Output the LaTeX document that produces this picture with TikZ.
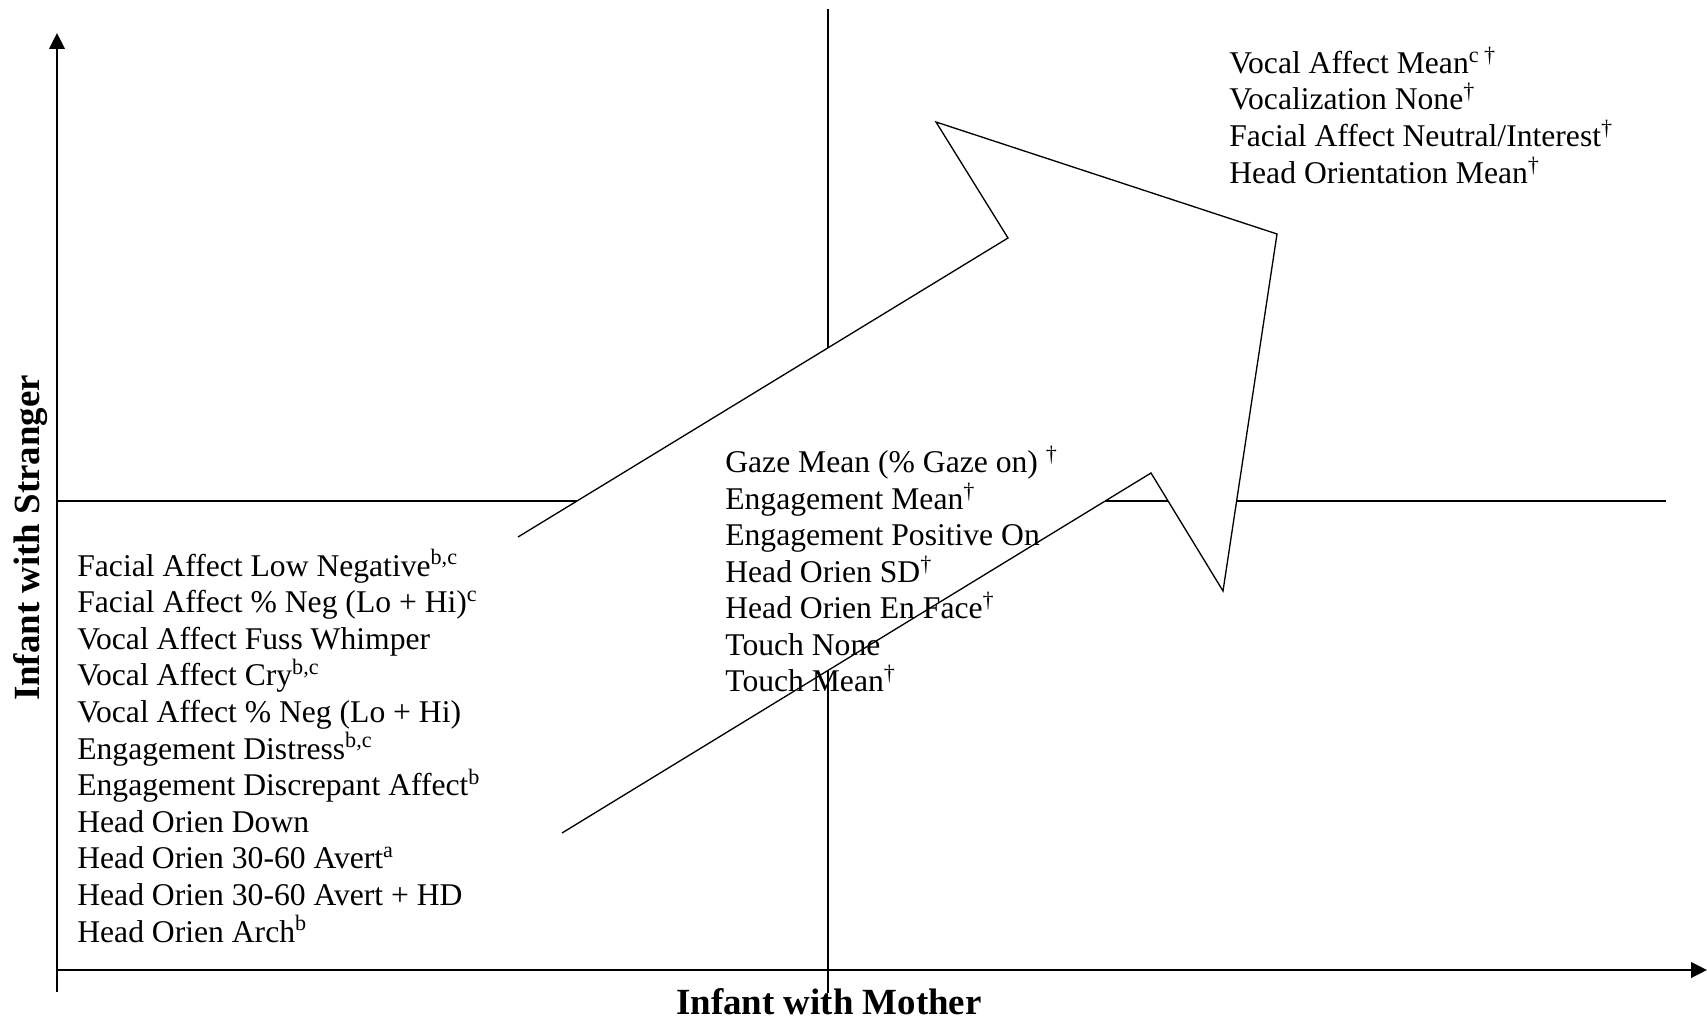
\documentclass[tikz,border=0pt]{standalone}
\usepackage{fontspec}
\setmainfont{Liberation Serif}
\usepackage{tikz}
\usetikzlibrary{arrows.meta,positioning,calc}

\newcommand{\supdag}{\textsuperscript{\dag}}

\begin{document}
\begin{tikzpicture}[
    x=0.02cm, y=-0.02cm,
    every node/.style={font=\fontsize{18}{21}\selectfont, inner sep=0pt},
    axislabel/.style={font=\fontsize{21}{25}\selectfont\bfseries},
    thinline/.style={line width=0.75pt},
    axisline/.style={line width=1.5pt, -{Triangle[length=0.32cm,width=0.31cm]}},
    item/.style={anchor=base west}
]
\useasboundingbox (0,0) rectangle (1707,1020);

% axes and quadrant lines
\coordinate (origin) at (57,970);
\coordinate (ytop) at (57,33);
\coordinate (xend) at (1707,970);
\draw[thinline] (57,501) -- (1666,501);
\draw[thinline] (828,9) -- (828,993);
\draw[thinline] (57,992) -- (57,535);
\draw[thinline] (origin) -- (561,970);
\draw[axisline] (57,535) -- (ytop);
\draw[axisline] (561,970) -- (xend);

% big arrow
\coordinate (tailA) at (518,537);
\coordinate (notchA) at (1008,238);
\coordinate (barbA) at (936,122);
\coordinate (tip) at (1277,234);
\coordinate (barbB) at (1223,591);
\coordinate (notchB) at (1151,473);
\coordinate (tailB) at (562,833);
\fill[white] (tailA) -- (notchA) -- (barbA) -- (tip) -- (barbB) -- (notchB) -- (tailB) -- cycle;
\draw[thinline, line join=miter] (tailA) -- (notchA) -- (barbA) -- (tip) -- (barbB) -- (notchB) -- (tailB);

% axis labels
\node[axislabel, anchor=base] (xlabel) at (829,1014) {Infant with Mother};
\node[axislabel, anchor=base, rotate=90] (ylabel) at (39,538) {Infant with Stranger};

% lower left
\foreach \txt [count=\i from 0] in {
    {Facial Affect Low Negative\textsuperscript{b,c}},
    {Facial Affect \% Neg (Lo + Hi)\textsuperscript{c}},
    {Vocal Affect Fuss Whimper},
    {Vocal Affect Cry\textsuperscript{b,c}},
    {Vocal Affect \% Neg (Lo + Hi)},
    {Engagement Distress\textsuperscript{b,c}},
    {Engagement Discrepant Affect\textsuperscript{b}},
    {Head Orien Down},
    {Head Orien 30-60 Avert\textsuperscript{a}},
    {Head Orien 30-60 Avert + HD},
    {Head Orien Arch\textsuperscript{b}}}
    \node[item] (neg\i) at (77,576+36.6*\i) {\txt};

% middle
\foreach \txt [count=\i from 0] in {
    {Gaze Mean (\% Gaze on) \supdag},
    {Engagement Mean\supdag},
    {Engagement Positive On},
    {Head Orien SD\supdag},
    {Head Orien En Face\supdag},
    {Touch None},
    {Touch Mean\supdag}}
    \node[item] (mid\i) at (725,472.7+36.5*\i) {\txt};

% upper right
\foreach \txt [count=\i from 0] in {
    {Vocal Affect Mean\textsuperscript{c \dag}},
    {Vocalization None\supdag},
    {Facial Affect Neutral/Interest\supdag},
    {Head Orientation Mean\supdag}}
    \node[item] (pos\i) at (1229,73.3+36.7*\i) {\txt};
\end{tikzpicture}
\end{document}
